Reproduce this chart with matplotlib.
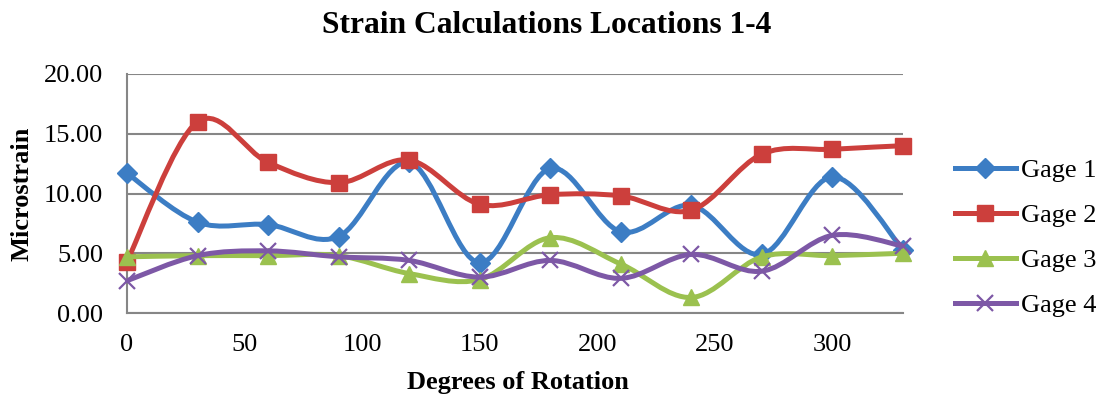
import matplotlib
matplotlib.use('Agg')
import matplotlib.pyplot as plt
from matplotlib.path import Path
from matplotlib.patches import PathPatch
from matplotlib.lines import Line2D

plt.rcParams['font.family'] = ['Liberation Serif', 'DejaVu Serif']

# angolo di rotazione (gradi)
gradi = [0, 30, 60, 90, 120, 150, 180, 210, 240, 270, 300, 330]

gage_1 = [11.7, 7.6, 7.4, 6.4, 12.6, 4.2, 12.1, 6.8, 9.0, 4.9, 11.4, 5.3]
gage_2 = [4.3, 16.0, 12.6, 10.9, 12.8, 9.1, 9.9, 9.8, 8.6, 13.3, 13.7, 14.0]
gage_3 = [4.7, 4.8, 4.8, 4.8, 3.3, 2.8, 6.3, 4.1, 1.3, 4.7, 4.8, 5.0]
gage_4 = [2.7, 4.8, 5.2, 4.7, 4.4, 3.0, 4.4, 2.9, 4.9, 3.5, 6.5, 5.6]

etichette = ['Gage 1', 'Gage 2', 'Gage 3', 'Gage 4']
colori = ['#3C7DC4', '#CC3F3C', '#9BC14F', '#7D58A6']
marcatori = ['D', 's', '^', 'x']
dim_marc = [10, 11, 11, 12]

y_ticks = [0, 5, 10, 15, 20]
x_ticks = [0, 50, 100, 150, 200, 250, 300]


def curva_liscia(xs, ys):
    # spline di Bezier tipo Excel: punti di controllo a 1/6 della differenza tra i vicini
    n = len(xs)
    punti = [(xs[0], ys[0])]
    codici = [Path.MOVETO]
    for i in range(n - 1):
        i0 = max(i - 1, 0)
        i3 = min(i + 2, n - 1)
        c1 = (xs[i] + (xs[i + 1] - xs[i0]) / 6, ys[i] + (ys[i + 1] - ys[i0]) / 6)
        c2 = (xs[i + 1] - (xs[i3] - xs[i]) / 6, ys[i + 1] - (ys[i3] - ys[i]) / 6)
        punti += [c1, c2, (xs[i + 1], ys[i + 1])]
        codici += [Path.CURVE4, Path.CURVE4, Path.CURVE4]
    return Path(punti, codici)


figura = plt.figure(figsize=(11.01, 4.0), dpi=100)
grafico = figura.add_axes([127 / 1101, 1 - 313 / 400, 776 / 1101, 239 / 400])

serie = [gage_1, gage_2, gage_3, gage_4]
maniglie = []
for k, valori in enumerate(serie):
    linea = PathPatch(curva_liscia(gradi, valori), fill=False, edgecolor=colori[k],
                      linewidth=3.6, zorder=3 + 2 * k, capstyle='round', joinstyle='round')
    grafico.add_patch(linea)
    mew = 1.6 if marcatori[k] == 'x' else 1
    grafico.plot(gradi, valori, linestyle='none', marker=marcatori[k], markersize=dim_marc[k],
                 color=colori[k], markeredgewidth=mew, zorder=4 + 2 * k, clip_on=False)
    maniglie.append(Line2D([], [], color=colori[k], linewidth=3.6, marker=marcatori[k],
                           markersize=dim_marc[k], markeredgewidth=mew))

grafico.set_xlim(0, 330)
grafico.set_ylim(0, 20)
grafico.set_yticks(y_ticks)
grafico.set_yticklabels(['%.2f' % v for v in y_ticks])
grafico.set_xticks(x_ticks)
grafico.tick_params(length=0, labelsize=19)
grafico.tick_params(axis='y', pad=17)
grafico.tick_params(axis='x', pad=15)
grafico.grid(axis='y', color='#868686', linewidth=1.5)
grafico.set_axisbelow(True)
for lato in ['top', 'right']:
    grafico.spines[lato].set_visible(False)
for lato in ['left', 'bottom']:
    grafico.spines[lato].set_color('#868686')
    grafico.spines[lato].set_linewidth(1.5)

figura.text(547 / 1101, 1 - 33 / 400, 'Strain Calculations Locations 1-4',
            fontsize=22.7, fontweight='bold', ha='center', va='baseline')
figura.text(22 / 1101, 1 - 194 / 400, 'Microstrain', fontsize=19, fontweight='bold',
            rotation=90, ha='center', va='center')
figura.text(518 / 1101, 1 - 389 / 400, 'Degrees of Rotation', fontsize=19,
            fontweight='bold', ha='center', va='baseline')

figura.legend(maniglie, etichette, loc='center left', bbox_to_anchor=(955 / 1101, 1 - 238 / 400),
              frameon=False, fontsize=19, handlelength=2.3, handletextpad=0.2,
              labelspacing=0.82, borderaxespad=0, borderpad=0)

figura.savefig('out.png', dpi=100)
